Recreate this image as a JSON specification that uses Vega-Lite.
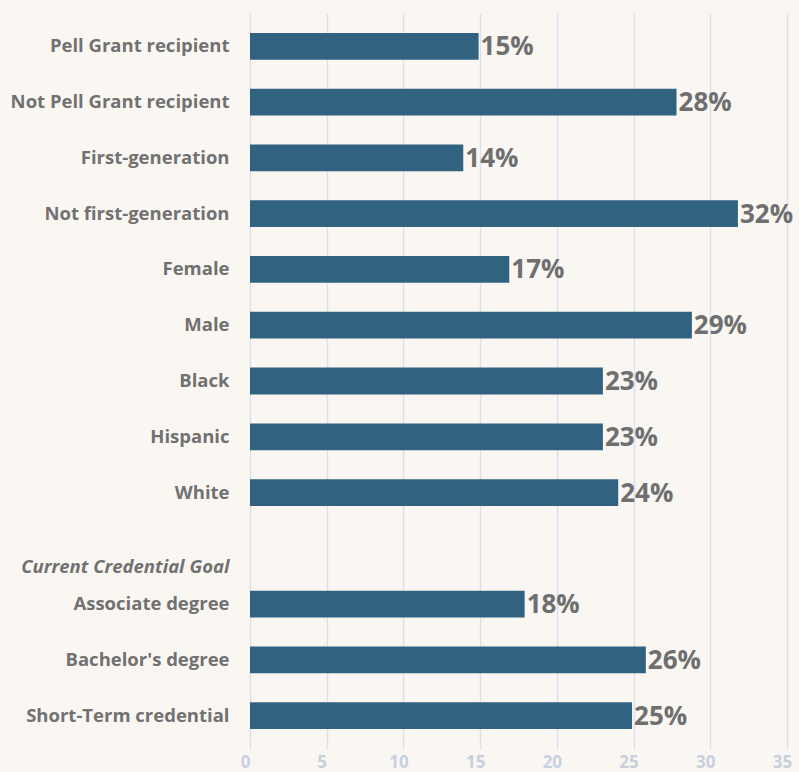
{
  "$schema": "https://vega.github.io/schema/vega-lite/v6.json",
  "autosize": {"type": "none"},
  "padding": {"left": 250, "top": 13, "right": 12, "bottom": 23},
  "width": 537,
  "height": 736,
  "background": "#faf7f3",
  "config": {"view": {"stroke": null}, "font": "Open Sans"},
  "data": {"values": [
    {"group": "Pell Grant recipient", "pct": 14.9, "label": "15%"},
    {"group": "Not Pell Grant recipient", "pct": 27.8, "label": "28%"},
    {"group": "First-generation", "pct": 13.9, "label": "14%"},
    {"group": "Not first-generation", "pct": 31.8, "label": "32%"},
    {"group": "Female", "pct": 16.9, "label": "17%"},
    {"group": "Male", "pct": 28.8, "label": "29%"},
    {"group": "Black", "pct": 23.0, "label": "23%"},
    {"group": "Hispanic", "pct": 23.0, "label": "23%"},
    {"group": "White", "pct": 24.0, "label": "24%"},
    {"group": "Associate degree", "pct": 17.9, "label": "18%"},
    {"group": "Bachelor's degree", "pct": 25.8, "label": "26%"},
    {"group": "Short-Term credential", "pct": 24.9, "label": "25%"}
  ]},
  "encoding": {
    "y": {
      "field": "group", "type": "nominal", "title": null,
      "scale": {
        "domain": ["Pell Grant recipient", "Not Pell Grant recipient", "First-generation", "Not first-generation", "Female", "Male", "Black", "Hispanic", "White", "Current Credential Goal", "Associate degree", "Bachelor's degree", "Short-Term credential"],
        "paddingInner": 0.52, "paddingOuter": 0.36
      },
      "axis": {
        "domain": false, "ticks": false, "labelPadding": 21, "labelLimit": 300,
        "labelFontSize": 18.5, "labelFontWeight": "bold", "labelColor": "#717171",
        "labelFont": "Open Sans",
        "labelFontStyle": {"condition": {"test": "datum.value === 'Current Credential Goal'", "value": "italic"}, "value": "normal"},
        "labelOffset": {"condition": {"test": "datum.value === 'Current Credential Goal'", "value": 19}, "value": 0}
      }
    },
    "x": {
      "field": "pct", "type": "quantitative", "title": null,
      "scale": {"domain": [0, 35], "nice": false},
      "axis": {
        "values": [0, 5, 10, 15, 20, 25, 30, 35],
        "domain": false, "ticks": false, "grid": true,
        "gridColor": "#dde0ea", "gridWidth": 1.5,
        "labelColor": "#c8d0e0", "labelFontSize": 17, "labelFontWeight": "bold",
        "labelPadding": 5, "labelFont": "Open Sans", "labelFlush": false, "labelOffset": -5
      }
    }
  },
  "layer": [
    {"mark": {"type": "bar", "color": "#31627f"}},
    {
      "mark": {"type": "text", "align": "left", "baseline": "middle", "dx": 2, "dy": 1, "fontSize": 26, "fontWeight": "bold", "color": "#6f6f6f", "font": "Open Sans"},
      "encoding": {"text": {"field": "label"}}
    }
  ]
}
